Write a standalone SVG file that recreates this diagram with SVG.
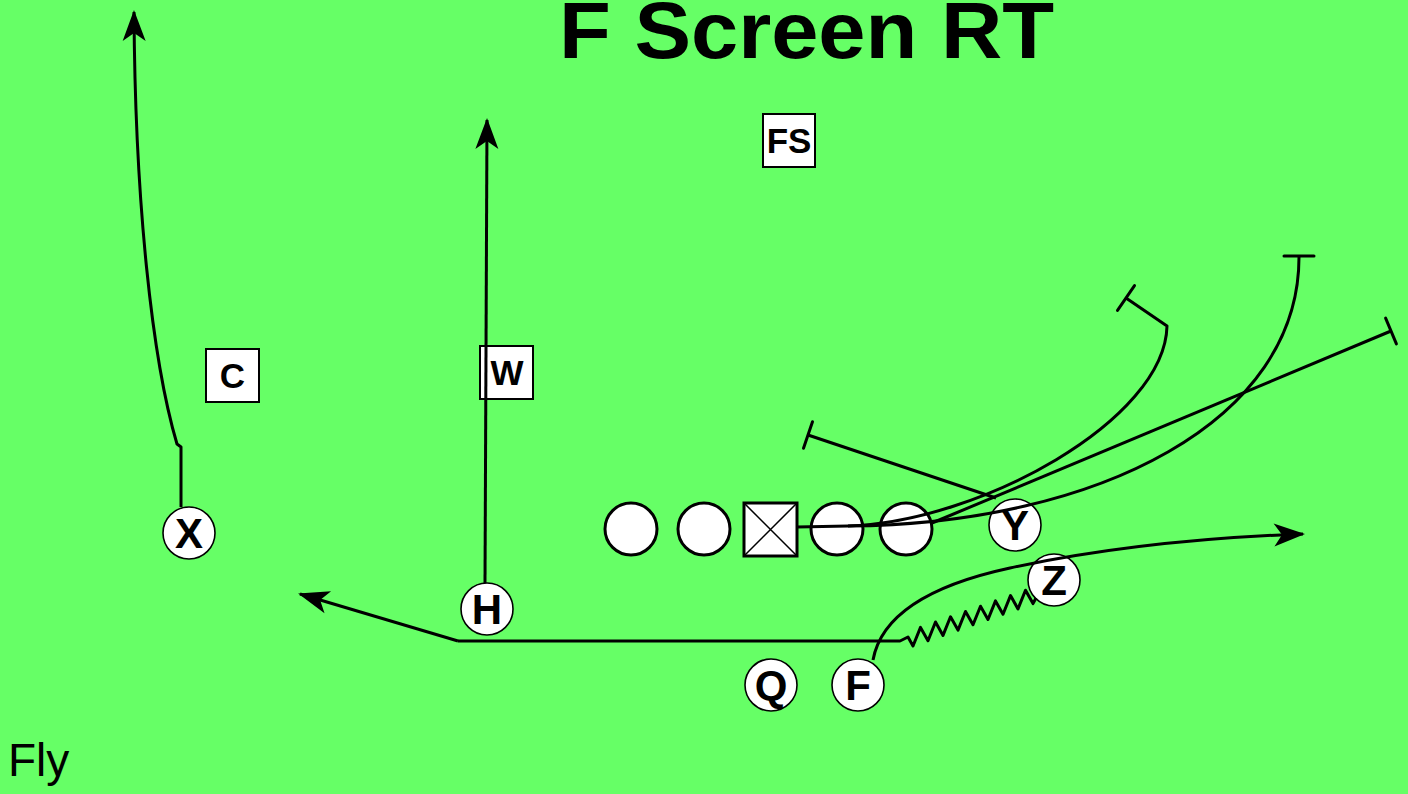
<svg xmlns="http://www.w3.org/2000/svg" width="1408" height="794" viewBox="0 0 1408 794">
<style>
.bg{fill:#66ff66}
.ttl{font-family:"Liberation Sans",Arial,sans-serif;font-weight:bold;font-size:80px;fill:#000}
.lbl{font-family:"Liberation Sans",Arial,sans-serif;font-weight:bold;font-size:42px;fill:#000;text-anchor:middle}
.blbl{font-family:"Liberation Sans",Arial,sans-serif;font-weight:bold;font-size:35px;fill:#000;text-anchor:middle}
.note{font-family:"Liberation Sans",Arial,sans-serif;font-size:46px;fill:#000}
.pl{fill:#fff;stroke:#000;stroke-width:1.6}
.ol{fill:#fff;stroke:#000;stroke-width:3}
.box{fill:#fff;stroke:#000;stroke-width:2}
.rt{fill:none;stroke:#000;stroke-width:3;stroke-linejoin:round}
.tb{fill:none;stroke:#000;stroke-width:3;stroke-linecap:round}
.arr{marker-end:url(#ah)}
</style>
<defs>
<marker id="ah" markerUnits="userSpaceOnUse" viewBox="-31 -13 35 26" markerWidth="35" markerHeight="26" refX="0" refY="0" orient="auto">
<path d="M2,0 L-29,-11.5 L-21,0 L-29,11.5 Z" fill="#000"/>
</marker>
</defs>
<rect class="bg" x="0" y="0" width="1408" height="794"/>
<text class="ttl" x="559" y="58" textLength="495" lengthAdjust="spacingAndGlyphs">F Screen RT</text>
<text class="note" x="8" y="776">Fly</text>

<g id="C"><rect class="box" x="206" y="349" width="53" height="53"/><text class="blbl" x="232.5" y="388">C</text></g>
<g id="W"><rect class="box" x="480" y="346" width="53" height="53"/><text class="blbl" x="507" y="385">W</text></g>
<g id="FS"><rect class="box" x="763" y="114" width="52" height="53"/><text class="blbl" x="789" y="153">FS</text></g>

<g id="LT"><circle class="ol" cx="631" cy="529" r="26"/></g>
<g id="LG"><circle class="ol" cx="704" cy="529" r="26"/></g>
<g id="Center"><rect class="ol" x="744" y="503" width="53" height="53"/><path d="M744,503 L797,556 M797,503 L744,556" stroke="#000" stroke-width="1.5"/></g>
<g id="RG"><circle class="ol" cx="837" cy="529" r="26"/></g>
<g id="RT"><circle class="ol" cx="906" cy="529" r="26"/></g>

<g id="X"><circle class="pl" cx="189" cy="533" r="26"/><text class="lbl" x="189" y="548">X</text></g>
<g id="H"><circle class="pl" cx="487" cy="609" r="26"/><text class="lbl" x="487" y="624">H</text></g>
<g id="Q"><circle class="pl" cx="771" cy="685" r="26"/><text class="lbl" x="771" y="700">Q</text></g>
<g id="F"><circle class="pl" cx="858" cy="685" r="26"/><text class="lbl" x="858" y="700">F</text></g>
<g id="Y"><circle class="pl" cx="1015" cy="525" r="26"/><text class="lbl" x="1015" y="540">Y</text></g>
<g id="Z"><circle class="pl" cx="1054" cy="580" r="26"/><text class="lbl" x="1054" y="595">Z</text></g>

<g id="connectors">
<path class="rt arr" d="M181,507 L181,447 L177,444 C152,360 135,200 134,12"/>
<path class="rt arr" d="M485,583 L487,120"/>
<path class="rt arr" d="M458,641 L300,594"/>
<path class="rt" d="M458,641 L900,641 L908,637 L913,646 L920.5,627.4 L928,640.7 L935.5,622 L943,635.4 L950.5,616.8 L958,630.1 L965.5,611.5 L973,624.8 L980.5,606.2 L988,619.5 L995.5,600.9 L1003,614.2 L1010.5,595.6 L1018,608.9 L1025.5,590.2 L1033,603.6 L1036,598" stroke-width="2.5"/>
<path class="rt arr" d="M873,660 Q885,595 1010,568 Q1140,540 1303,534"/>
<path class="rt" d="M797,527 L848,526"/>
<path class="rt" d="M996,498 L808,435"/>
<path class="tb" d="M812.5,421.7 L803.5,448.3"/>
<path class="rt" d="M848,526 C980,522 1165,420 1167,326 L1126,298"/>
<path class="tb" d="M1134.5,285.6 L1117.5,310.4"/>
<path class="rt" d="M848,526 C1100,524 1300,420 1299,256"/>
<path class="tb" d="M1284,256 L1314,256"/>
<path class="rt" d="M932,523 L1391,331"/>
<path class="tb" d="M1385.6,318.1 L1396.4,343.9"/>
</g>
</svg>
